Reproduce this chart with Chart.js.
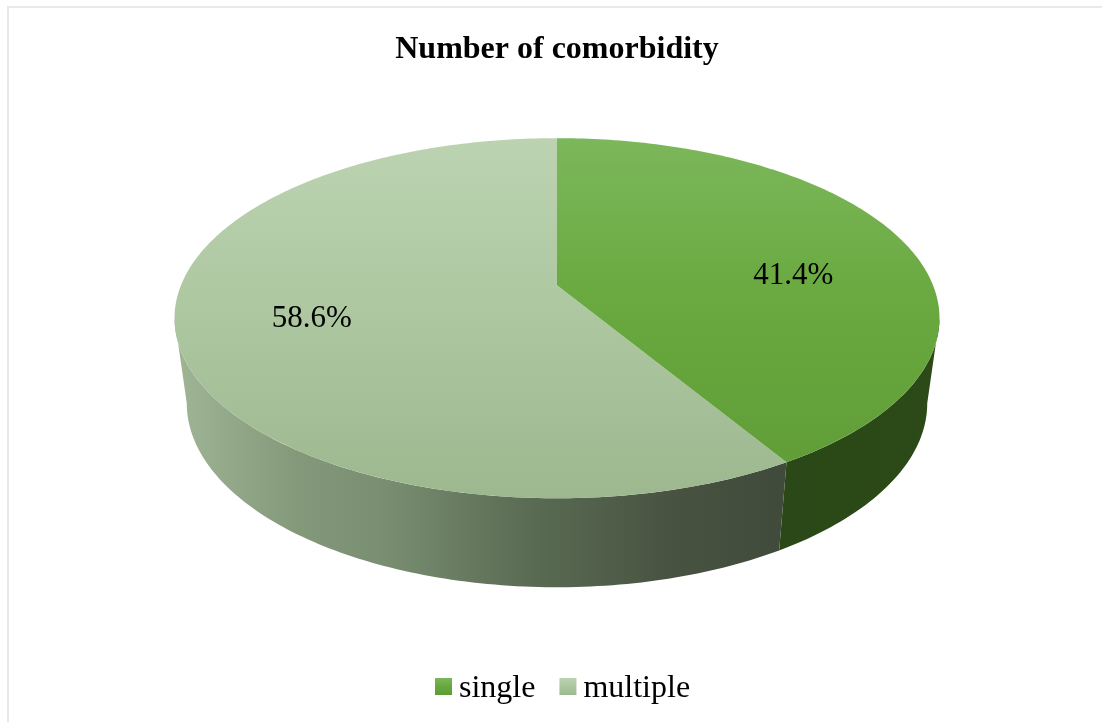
<!DOCTYPE html>
<html>
<head>
<meta charset="utf-8">
<title>Number of comorbidity</title>
<script src="https://cdn.jsdelivr.net/npm/chart.js@4/dist/chart.umd.min.js"></script>
<style>
  html, body { margin: 0; padding: 0; background: #fff; overflow: hidden; }
  #frame { position: absolute; left: 7px; top: 6px; right: 0; bottom: 0; border-left: 2px solid #e6eaee; border-top: 2px solid #e6eaee; }
  #mychart { position: absolute; left: 0; top: 0; }
</style>
</head>
<body>
<div id="frame"></div>
<canvas id="mychart" width="1102" height="722"></canvas>
<script>
// values
const chartTitle = 'Number of comorbidity';
const categories = ['single', 'multiple'];
const shares = [41.4, 58.6];

// colours: top face gradient (top, middle, bottom), then side wall stops from left to right
const topColors = [['#7cb75b', '#69a93f', '#5f9b36'], ['#bcd3b1', '#aec8a2', '#9db78f']];
const wallColors = [
  [[0, '#264313'], [1, '#2b4a18']],
  [[0, '#a0b596'], [0.03, '#9ab090'], [0.16, '#84997a'], [0.27, '#7a8f72'], [0.46, '#5a6c54'], [0.66, '#475240'], [0.79, '#414b3c'], [1, '#3f4a3a']]
];

const serif = '"Liberation Serif", "Times New Roman", serif';

// perspective of the tilted disc (sizes relative to the arc radius)
const pieRadius = 200;
const squeezeX = 1.88;
const squeezeY = 0.87;
const tilt = -0.1833;
const wallScaleX = 0.968;
const wallScaleY = 1.022;
const wallDrop = 84.3;

function topPoint(el, u, v) {
  const w = 1 + tilt * v;
  return [el.x + pieRadius * squeezeX * u / w, el.y + pieRadius * squeezeY * v / w];
}

function wallPoint(el, u, v) {
  const p = topPoint(el, u, v);
  return [el.x + (p[0] - el.x) * wallScaleX, el.y + wallDrop + (p[1] - el.y) * wallScaleY];
}

function traceArc(ctx, el, from, to, pointFn) {
  const steps = Math.max(2, Math.ceil(Math.abs(to - from) * 60));
  for (let i = 0; i <= steps; i++) {
    const a = from + (to - from) * i / steps;
    const p = pointFn(el, Math.cos(a), Math.sin(a));
    ctx.lineTo(p[0], p[1]);
  }
}

function faceGradient(ctx, y0, y1, colors) {
  const g = ctx.createLinearGradient(0, y0, 0, y1);
  g.addColorStop(0, colors[0]);
  g.addColorStop(0.45, colors[1]);
  g.addColorStop(1, colors[2]);
  return g;
}

const tiltedPie = {
  id: 'tiltedPie',
  // skip the flat pie and draw the arc elements of the chart in perspective
  beforeDatasetsDraw(chart) {
    const ctx = chart.ctx;
    const arcs = chart.getDatasetMeta(0).data;
    const edge = Math.asin(-tilt);
    const el0 = arcs[0];
    const left = topPoint(el0, -Math.cos(edge), -tilt)[0];
    const right = topPoint(el0, Math.cos(edge), -tilt)[0];
    const top = topPoint(el0, 0, -1)[1];
    const bottom = topPoint(el0, 0, 1)[1];

    // side walls, only the part facing the viewer
    arcs.forEach((el, i) => {
      const from = Math.max(el.startAngle, edge);
      const to = Math.min(el.endAngle, Math.PI - edge);
      if (to <= from) return;
      const g = ctx.createLinearGradient(left, 0, right, 0);
      wallColors[i].forEach(s => g.addColorStop(s[0], s[1]));
      ctx.beginPath();
      traceArc(ctx, el, from, to, topPoint);
      traceArc(ctx, el, to, from, wallPoint);
      ctx.closePath();
      ctx.fillStyle = g;
      ctx.fill();
    });

    // top faces
    [1, 0].forEach(i => {
      const el = arcs[i];
      const c = topPoint(el, 0, 0);
      ctx.beginPath();
      ctx.moveTo(c[0], c[1]);
      traceArc(ctx, el, el.startAngle, el.endAngle, topPoint);
      ctx.closePath();
      ctx.fillStyle = faceGradient(ctx, top, bottom, topColors[i]);
      ctx.fill();
    });

    // percent labels
    const labelShift = [[8, 20], [-2, 2]];
    ctx.fillStyle = '#000';
    ctx.font = '31px ' + serif;
    ctx.textAlign = 'center';
    ctx.textBaseline = 'middle';
    arcs.forEach((el, i) => {
      const mid = (el.startAngle + el.endAngle) / 2;
      const p = topPoint(el, 0.65 * Math.cos(mid), 0.65 * Math.sin(mid));
      ctx.fillText(shares[i].toFixed(1) + '%', p[0] + labelShift[i][0], p[1] + labelShift[i][1]);
    });
    return false;
  },
  // legend at the bottom, swatch close to the text
  afterDraw(chart) {
    const ctx = chart.ctx;
    let x = 435;
    ctx.font = '32px ' + serif;
    ctx.textAlign = 'left';
    ctx.textBaseline = 'alphabetic';
    categories.forEach((name, i) => {
      ctx.fillStyle = faceGradient(ctx, 678, 695, topColors[i]);
      ctx.fillRect(x, 678, 17, 17);
      ctx.fillStyle = '#000';
      ctx.fillText(name, x + 24, 697);
      x += 24 + ctx.measureText(name).width + 24;
    });
  }
};

const ctx = document.getElementById('mychart');

const pieChart = new Chart(ctx, {
  type: 'pie',
  data: {
    labels: categories,
    datasets: [{
      data: shares,
      backgroundColor: topColors.map(c => c[0]),
      borderWidth: 0,
      radius: pieRadius
    }]
  },
  options: {
    responsive: false,
    animation: false,
    layout: { padding: { left: 12, top: 0, right: 0, bottom: 234 } },
    plugins: {
      legend: { display: false },
      tooltip: { enabled: false },
      title: {
        display: true,
        text: chartTitle,
        color: '#000',
        font: { family: serif, size: 32, weight: 'bold' },
        padding: { top: 31, bottom: 13 }
      }
    }
  },
  plugins: [tiltedPie]
});
</script>
</body>
</html>
